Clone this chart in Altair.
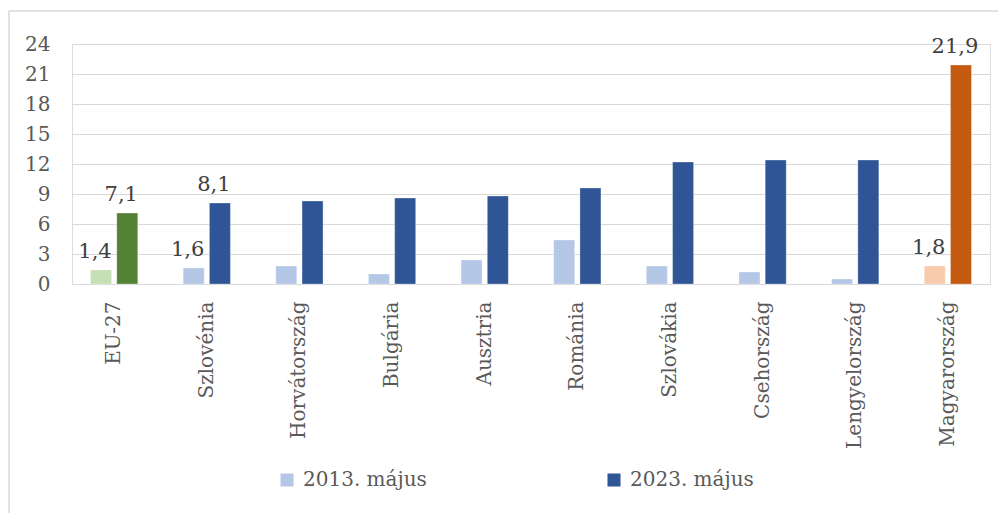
import altair as alt
import pandas as pd

countries = ["EU-27", "Szlovénia", "Horvátország", "Bulgária", "Ausztria",
             "Románia", "Szlovákia", "Csehország", "Lengyelország", "Magyarország"]
v2013 = [1.4, 1.6, 1.8, 1.0, 2.4, 4.4, 1.8, 1.2, 0.5, 1.8]
v2023 = [7.1, 8.1, 8.3, 8.6, 8.8, 9.6, 12.2, 12.4, 12.4, 21.9]
series = ["2013. május", "2023. május"]
labeled = ["EU-27", "Szlovénia", "Magyarország"]
y_ticks = [0, 3, 6, 9, 12, 15, 18, 21, 24]

color_keys = ["2013. május", "2023. május", "EU 2013", "EU 2023", "HU 2013", "HU 2023"]
color_vals = ["#B4C7E7", "#2F5597", "#C5E0B4", "#548235", "#F8CBAD", "#C55A11"]

rows = []
for c, a, b in zip(countries, v2013, v2023):
    for s, v in zip(series, [a, b]):
        yr = s[:4]
        if c == "EU-27":
            key = "EU " + yr
        elif c == "Magyarország":
            key = "HU " + yr
        else:
            key = s
        lab = f"{v:.1f}".replace(".", ",") if c in labeled else ""
        rows.append({"country": c, "series": s, "value": v, "key": key, "label": lab})
df = pd.DataFrame(rows)

FONT = "DejaVu Serif"

x_enc = alt.X("country:N", sort=countries, title=None,
              scale=alt.Scale(paddingInner=0.49),
              axis=alt.Axis(labelAngle=-90, labelAlign="right", labelBaseline="middle",
                            labelPadding=17, domain=False, ticks=False,
                            labelFontSize=20, labelColor="#595959", labelFont=FONT))
xo_enc = alt.XOffset("series:N", sort=series, scale=alt.Scale(paddingInner=0.2))
y_enc = alt.Y("value:Q", title=None,
              scale=alt.Scale(domain=[0, 24], nice=False),
              axis=alt.Axis(values=y_ticks, domain=False, ticks=False, labelPadding=22,
                            labelOverlap=False,
                            labelFontSize=20, labelColor="#595959", labelFont=FONT,
                            gridColor="#D9D9D9", gridWidth=1.2))

bars = alt.Chart(df).mark_bar(stroke="#FFFFFF", strokeWidth=0.6, strokeOpacity=0.5).encode(
    x=x_enc, xOffset=xo_enc, y=y_enc,
    color=alt.Color("key:N", scale=alt.Scale(domain=color_keys, range=color_vals),
                    legend=alt.Legend(values=series, title=None, orient="none",
                                      direction="horizontal", columns=2,
                                      legendX=205, legendY=426, padding=0,
                                      symbolType="square", symbolSize=170,
                                      symbolStrokeWidth=0, columnPadding=177,
                                      labelFontSize=20, labelFont=FONT,
                                      labelColor="#595959", labelOffset=6)),
)

labels = alt.Chart(df).transform_filter(alt.datum.label != "").mark_text(
    baseline="bottom", dy=-8, dx=-6, fontSize=21, font=FONT, color="#404040"
).encode(x=x_enc, xOffset=xo_enc, y=y_enc, text="label:N")

border_df = pd.DataFrame({"f": [0]})
left_edge = alt.Chart(border_df).mark_rule(stroke="#D9D9D9", strokeWidth=1.5).encode(
    x=alt.value(-63), y=alt.value(-33), y2=alt.value(480))
top_edge = alt.Chart(border_df).mark_rule(stroke="#D9D9D9", strokeWidth=1.5).encode(
    x=alt.value(-63), x2=alt.value(930), y=alt.value(-33))

chart = alt.layer(left_edge, top_edge, bars, labels).properties(
    width=918, height=240,
    autosize=alt.AutoSizeParams(type="none"),
    padding={"left": 64, "top": 36, "right": 8, "bottom": 229},
).configure_view(stroke=None).configure(font=FONT, background="white")

chart.save("out.html", embed_options={"renderer": "svg", "actions": False})
